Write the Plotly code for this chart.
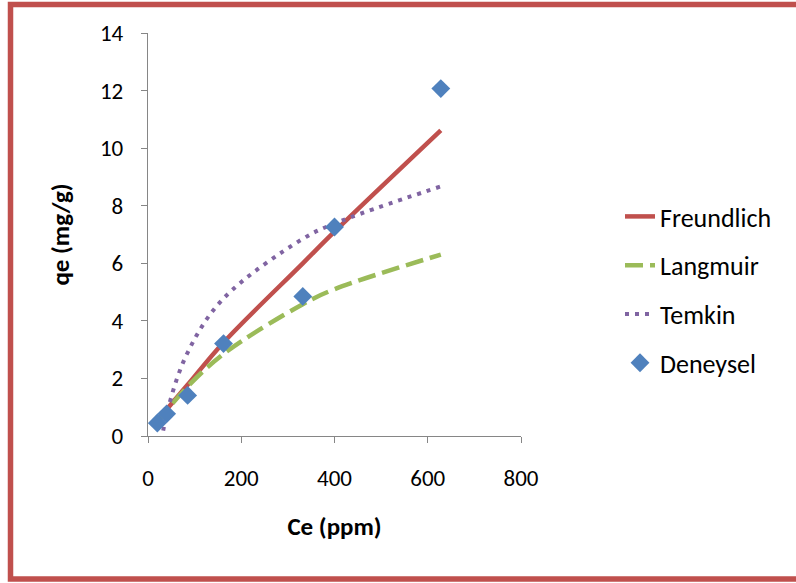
import plotly.graph_objects as go

# Data
ce = [20, 40, 85, 162, 332, 400, 628]
deneysel = [0.45, 0.77, 1.41, 3.21, 4.85, 7.26, 12.07]
freundlich = [0.50, 0.92, 1.78, 3.25, 6.00, 7.10, 10.62]
langmuir = [0.46, 0.88, 1.72, 2.85, 4.58, 5.10, 6.30]
temkin = [-1.20, 0.75, 2.90, 4.78, 6.85, 7.38, 8.67]

x_ticks = [0, 200, 400, 600, 800]
y_ticks = [0, 2, 4, 6, 8, 10, 12, 14]

FONT = "Carlito, Lato, sans-serif"
AX = "#868686"

fig = go.Figure()
fig.add_trace(go.Scatter(x=ce, y=freundlich, name="Freundlich", mode="lines",
                         line=dict(color="#C0504D", width=4.5, shape="spline"),
                         legendgroup="a"))
fig.add_trace(go.Scatter(x=ce, y=langmuir, name="Langmuir", mode="lines",
                         line=dict(color="#9BBB59", width=4.5, shape="spline", dash="18px,7px"),
                         legendgroup="b"))
fig.add_trace(go.Scatter(x=ce, y=temkin, name="Temkin", mode="lines",
                         line=dict(color="#8064A2", width=4, shape="spline", dash="4px,6px"),
                         legendgroup="c"))
fig.add_trace(go.Scatter(x=ce, y=deneysel, name="Deneysel", mode="markers",
                         marker=dict(symbol="diamond", size=14.5, color="#4F81BD"),
                         legendgroup="d"))

L, T, W, H = 148, 33, 373, 403
fig.update_layout(
    width=796, height=583,
    margin=dict(l=L, r=796 - L - W, t=T, b=583 - T - H, autoexpand=False),
    paper_bgcolor="white", plot_bgcolor="white",
    font=dict(family=FONT, size=23, color="black"),
    showlegend=True,
    legend=dict(x=(620 - L) / W, y=(436 - 193) / H, xanchor="left", yanchor="top",
                font=dict(size=26), tracegroupgap=12, bgcolor="rgba(0,0,0,0)"),
    xaxis=dict(range=[0, 800], tickvals=x_ticks, showgrid=False, zeroline=False,
               showline=True, linecolor=AX, linewidth=1.3,
               ticks="outside", ticklen=6, tickcolor=AX, tickwidth=1.3,
               ticklabelstandoff=15, tickfont=dict(size=23),
               title=dict(text="<b>Ce (ppm)</b>", standoff=26, font=dict(size=25))),
    yaxis=dict(range=[0, 14], tickvals=y_ticks, showgrid=False, zeroline=False,
               showline=True, linecolor=AX, linewidth=1.3,
               ticks="outside", ticklen=6, tickcolor=AX, tickwidth=1.3,
               ticklabelstandoff=13, tickfont=dict(size=23),
               title=dict(text="<b>qe (mg/g)</b>", standoff=23, font=dict(size=25))),
)

# outer red frame
fig.add_shape(type="rect", xref="paper", yref="paper",
              x0=(10.5 - L) / W, x1=(805 - L) / W,
              y0=(T + H - 579) / H, y1=(T + H - 4.5) / H,
              line=dict(color="#C0504D", width=5.5), layer="below")

fig.write_html("out.html")
